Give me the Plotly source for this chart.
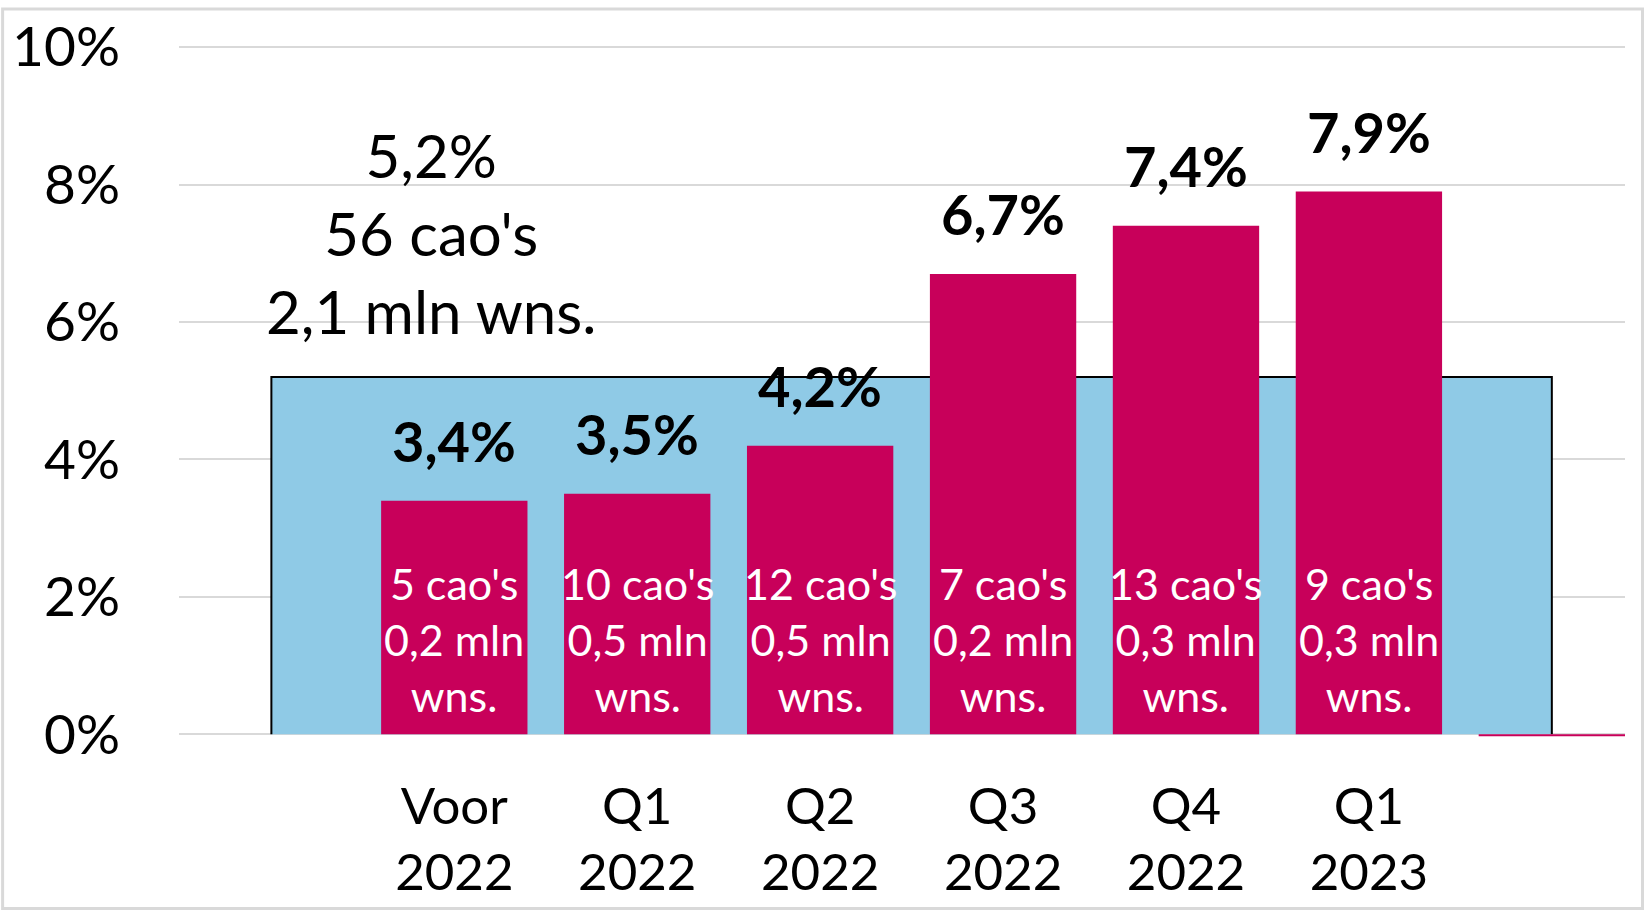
import plotly.graph_objects as go

# quarters (bar categories)
categories = ["Voor<br>2022", "Q1<br>2022", "Q2<br>2022", "Q3<br>2022", "Q4<br>2022", "Q1<br>2023"]
wage_rise = [3.4, 3.5, 4.2, 6.7, 7.4, 7.9]
value_labels = ["3,4%", "3,5%", "4,2%", "6,7%", "7,4%", "7,9%"]
cao_labels = [
    "5 cao's<br>0,2 mln<br>wns.",
    "10 cao's<br>0,5 mln<br>wns.",
    "12 cao's<br>0,5 mln<br>wns.",
    "7 cao's<br>0,2 mln<br>wns.",
    "13 cao's<br>0,3 mln<br>wns.",
    "9 cao's<br>0,3 mln<br>wns.",
]
# empty trailing slot, drawn as a hairline just under zero
tail_value = -0.03

# overall average over all contracts (background block)
avg_value = 5.2
avg_label = "5,2%<br>56 cao's<br>2,1 mln wns."

y_ticks = [0, 2, 4, 6, 8, 10]
y_tick_text = ["0%", "2%", "4%", "6%", "8%", "10%"]

RED = "#C8005A"
BLUE = "#8FCAE6"
GRID = "#D9D9D9"
FONT = "Lato"

pos = list(range(1, len(categories) + 1))
last = len(categories) + 1

fig = go.Figure()

fig.add_trace(
    go.Bar(
        x=pos + [last],
        y=wage_rise + [tail_value],
        width=0.8,
        marker=dict(color=RED, line=dict(width=0)),
        hoverinfo="x+y",
        showlegend=False,
    )
)

# background block for the average: filled path, open at the bottom
fig.add_shape(
    type="path",
    xref="x", yref="y",
    path=f"M {0},{0} L {0},{avg_value} L {last},{avg_value} L {last},{0}",
    fillcolor=BLUE,
    line=dict(color="black", width=2),
    layer="between",
)

for x, v, lab, cao in zip(pos, wage_rise, value_labels, cao_labels):
    fig.add_annotation(
        x=x, y=v, text=f"<b>{lab}</b>", showarrow=False,
        yanchor="middle", yshift=60,
        font=dict(family=FONT, size=56, color="black"),
    )
    fig.add_annotation(
        x=x, y=0, text=cao, showarrow=False,
        yanchor="middle", yshift=95,
        font=dict(family=FONT, size=43, color="white"),
    )

fig.add_annotation(
    x=0.87, y=7.3, text=avg_label, showarrow=False,
    font=dict(family=FONT, size=60, color="black"),
)

W, H = 1644, 913
ML, MR, MT, MB = 178, 19, 36, 175
pw, ph = W - ML - MR, H - MT - MB

# light grey frame round the whole picture
fig.add_shape(
    type="rect", xref="paper", yref="paper",
    x0=-ML / pw + 1.5 / pw, x1=1 + MR / pw - 1.5 / pw,
    y0=-MB / ph + 1.5 / ph, y1=1 + MT / ph - 1.5 / ph,
    line=dict(color=GRID, width=3),
)

fig.update_layout(
    width=W,
    height=H,
    margin=dict(l=ML, r=MR, t=MT, b=MB),
    paper_bgcolor="white",
    plot_bgcolor="white",
    font=dict(family=FONT, color="black"),
)
fig.update_xaxes(
    range=[-0.505, 7.4],
    tickvals=pos,
    ticktext=categories,
    tickfont=dict(family=FONT, size=51, color="black"),
    showgrid=False,
    zeroline=False,
    showline=False,
    ticks="",
    ticklabelstandoff=35,
)
fig.update_yaxes(
    range=[-0.04, 10.06],
    tickvals=y_ticks,
    ticktext=y_tick_text,
    tickfont=dict(family=FONT, size=55, color="black"),
    showgrid=True,
    gridcolor=GRID,
    gridwidth=2,
    zeroline=False,
    showline=False,
    ticks="",
    ticklabelstandoff=58,
)

fig.write_html(
    "out.html",
    config={"displayModeBar": False},
    post_script="document.body.style.margin='0';",
)
